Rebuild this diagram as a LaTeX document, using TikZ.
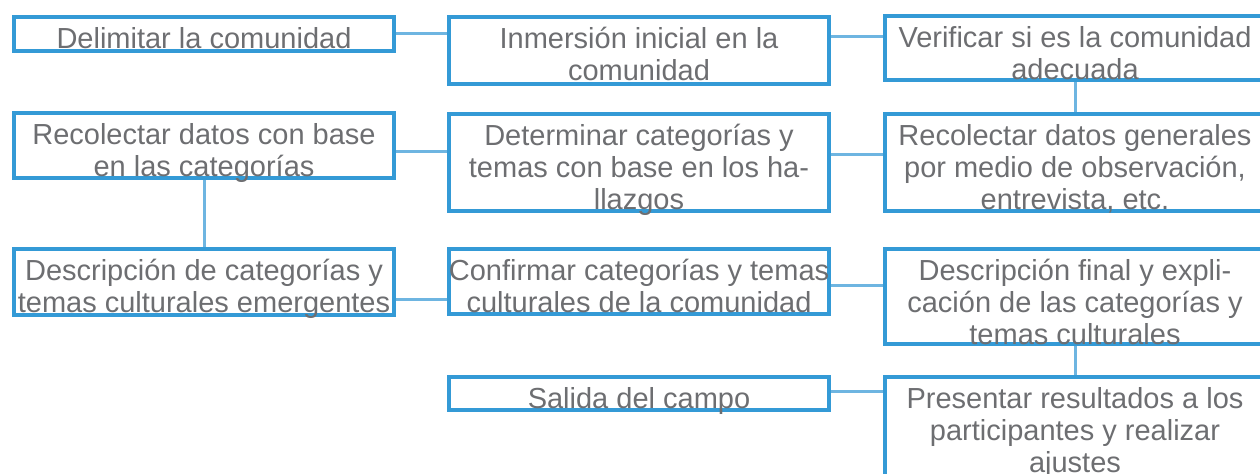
\documentclass[tikz,border=0pt]{standalone}
\usepackage{fontspec}
\setmainfont{Liberation Sans}
\usetikzlibrary{positioning}
\definecolor{azulcaja}{RGB}{52,154,214}
\definecolor{azullinea}{RGB}{110,181,225}
\definecolor{grisletra}{RGB}{109,110,113}
\tikzset{
    caja/.style={draw=azulcaja, line width=2pt, inner sep=0pt, minimum width=190pt},
    texto/.style={anchor=north, align=flush center, text width=205pt, text=grisletra, inner sep=0pt,
        font=\fontsize{14.5}{16}\selectfont,
        execute at begin node={\rule{0pt}{14pt}}},
    enlace/.style={draw=azullinea, line width=1.5pt}
}
\begin{document}
\begin{tikzpicture}[x=0.5pt,y=-0.5pt]
    \def \ba {2.5pt}
    \useasboundingbox (0,0) rectangle (1260,474);
    \clip (0,0) rectangle (1260,474);
    % cajas
    \node[caja, minimum height=17pt] (delim) at (204,34) {};
    \node[caja, minimum height=33.5pt] (inmer) at (639,50.5) {};
    \node[caja, minimum height=32pt] (verif) at (1075,48) {};
    \node[caja, minimum height=32.5pt] (reccat) at (204,145.5) {};
    \node[caja, minimum height=48.5pt] (determ) at (639,162.5) {};
    \node[caja, minimum height=48.5pt] (recgen) at (1075,162.5) {};
    \node[caja, minimum height=33pt] (descat) at (204,282) {};
    \node[caja, minimum height=32.5pt] (confirm) at (639,281.5) {};
    \node[caja, minimum height=47.5pt] (descfin) at (1075,296.5) {};
    \node[caja, minimum height=16.5pt] (salida) at (639,393.5) {};
    \node[caja, minimum height=65pt] (present) at (1075,442) {};
    % textos
    \node[texto] (tdelim) at ([yshift=-\ba]delim.north) {Delimitar la comunidad};
    \node[texto] (tinmer) at ([yshift=-\ba]inmer.north) {Inmersión inicial en la\\comunidad};
    \node[texto] (tverif) at ([yshift=-\ba]verif.north) {Verificar si es la comunidad\\adecuada};
    \node[texto] (treccat) at ([yshift=-\ba]reccat.north) {Recolectar datos con base\\en las categorías};
    \node[texto] (tdeterm) at ([yshift=-\ba]determ.north) {Determinar categorías y\\temas con base en los ha-\\llazgos};
    \node[texto] (trecgen) at ([yshift=-\ba]recgen.north) {Recolectar datos generales\\por medio de observación,\\entrevista, etc.};
    \node[texto] (tdescat) at ([yshift=-\ba]descat.north) {Descripción de categorías y\\temas culturales emergentes};
    \node[texto] (tconfirm) at ([yshift=-\ba]confirm.north) {Confirmar categorías y temas\\culturales de la comunidad};
    \node[texto] (tdescfin) at ([yshift=-\ba]descfin.north) {Descripción final y expli-\\cación de las categorías y\\temas culturales};
    \node[texto] (tsalida) at ([yshift=-\ba]salida.north) {Salida del campo};
    \node[texto] (tpresent) at ([yshift=-\ba]present.north) {Presentar resultados a los\\participantes y realizar\\ajustes};
    % enlaces
    \draw[enlace] (delim.east) -- (delim.east -| inmer.west);
    \draw[enlace] (inmer.east |- 0,37) -- (verif.west |- 0,37);
    \draw[enlace] (verif.south) -- (recgen.north);
    \draw[enlace] (recgen.west |- 0,155) -- (determ.east |- 0,155);
    \draw[enlace] (determ.west |- 0,152) -- (reccat.east |- 0,152);
    \draw[enlace] (reccat.south) -- (descat.north);
    \draw[enlace] (descat.east |- 0,300) -- (confirm.west |- 0,300);
    \draw[enlace] (confirm.east |- 0,286) -- (descfin.west |- 0,286);
    \draw[enlace] (descfin.south) -- (present.north);
    \draw[enlace] (present.west |- 0,392) -- (salida.east |- 0,392);
\end{tikzpicture}
\end{document}
